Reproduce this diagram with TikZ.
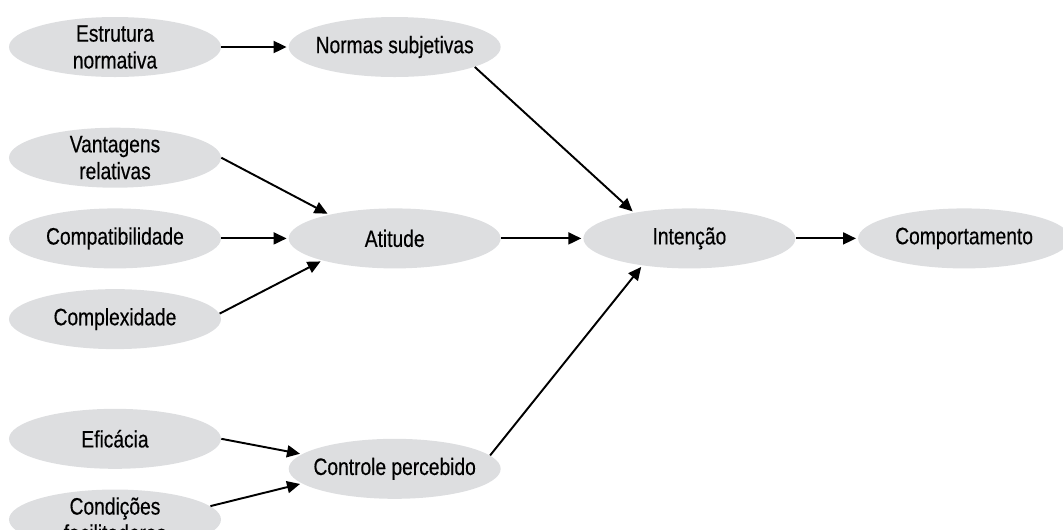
\documentclass[tikz,border=0pt]{standalone}
\usepackage{xcolor}
\usepackage{fontspec}
\setmainfont{Liberation Sans}[FakeStretch=0.81,FakeBold=0.4]
\usepackage{tikz}
\usetikzlibrary{arrows.meta,positioning,shapes.geometric}
\definecolor{elipcinza}{RGB}{221,222,224}

\begin{document}
\begin{tikzpicture}[>={Triangle[length=2.6mm,width=2.4mm]},node distance=1cm,
    elip node/.style={ellipse,fill=elipcinza,minimum width=4.24cm,minimum height=1.2cm,
      inner xsep=-2mm,inner ysep=-1.5mm,align=center,font=\fontsize{13.5}{15.3}\selectfont}]
    \useasboundingbox (-2.3,0.94) rectangle (18.96,-9.64);
    \node[elip node] (estr) at (0,0) {Estrutura\\normativa};
    \node[elip node] (normas) [right=1.34cm of estr] {Normas subjetivas};
    \node[elip node] (vant) [below=1cm of estr] {Vantagens\\relativas};
    \node[elip node] (compat) [below=4mm of vant] {Compatibilidade};
    \node[elip node] (complex) [below=4mm of compat] {Complexidade};
    \node[elip node] (efic) [below=1.18cm of complex] {Eficácia};
    \node[elip node] (cond) [below=4mm of efic] {Condições\\facilitadoras};
    \node[elip node] (atit) [right=1.34cm of compat] {Atitude};
    \node[elip node] (contr) [right=1.34cm of efic,yshift=-6mm] {Controle percebido};
    \node[elip node] (intenc) [right=1.64cm of atit] {Intenção};
    \node[elip node] (comport) [right=1.24cm of intenc] {Comportamento};

    \path[every edge/.style={draw,->,line width=1.1pt,shorten >=1pt}]
    (estr) edge (normas)
    (vant.east) edge (atit.160)
    (compat) edge (atit)
    (complex.3) edge (atit.197)
    (efic.east) edge (contr.171)
    (cond.8) edge (contr.189)
    (normas.346) edge (intenc.155)
    (atit) edge (intenc)
    (contr.8) edge (intenc.210)
    (intenc) edge (comport);
  \end{tikzpicture}
\end{document}
